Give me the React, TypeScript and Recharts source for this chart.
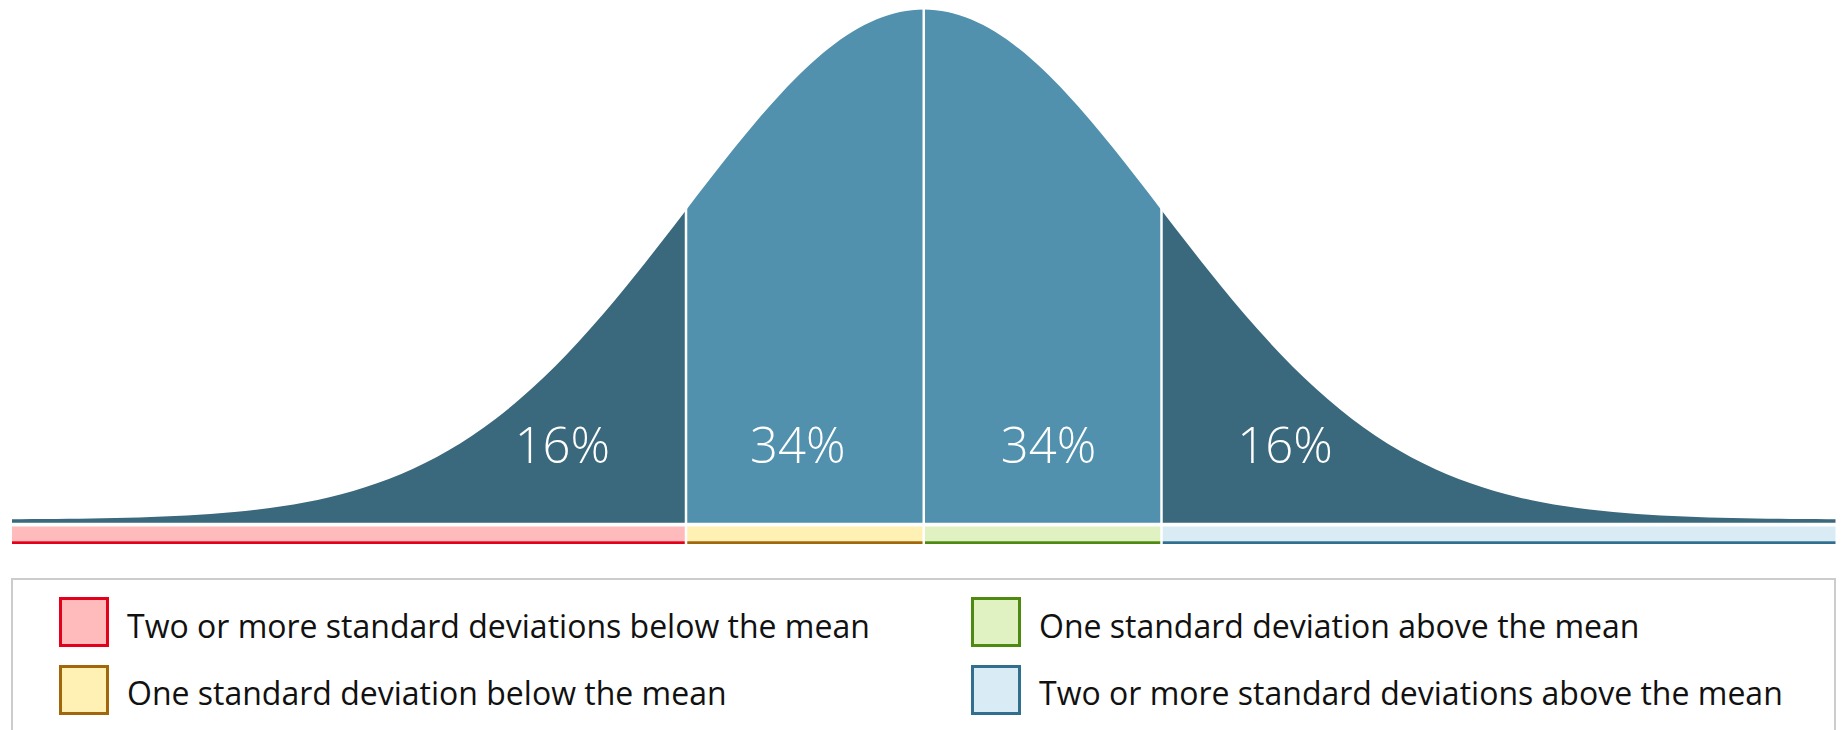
import React from 'react';
import {
  ComposedChart,
  Area,
  XAxis,
  YAxis,
  ReferenceArea,
  ReferenceLine,
  ReferenceDot,
} from 'recharts';

// x positions in standard deviations from the mean
const xValues = [
  -3.835, -3.8, -3.7, -3.6, -3.5, -3.4, -3.3, -3.2, -3.1, -3.0,
  -2.9, -2.8, -2.7, -2.6, -2.5, -2.4, -2.3, -2.2, -2.1, -2.0,
  -1.9, -1.8, -1.7, -1.6, -1.5, -1.4, -1.3, -1.2, -1.1, -1,
  -0.9, -0.8, -0.7, -0.6, -0.5, -0.4, -0.3, -0.2, -0.1, 0,
  0.1, 0.2, 0.3, 0.4, 0.5, 0.6, 0.7, 0.8, 0.9, 1,
  1.1, 1.2, 1.3, 1.4, 1.5, 1.6, 1.7, 1.8, 1.9, 2.0,
  2.1, 2.2, 2.3, 2.4, 2.5, 2.6, 2.7, 2.8, 2.9, 3.0,
  3.1, 3.2, 3.3, 3.4, 3.5, 3.6, 3.7, 3.8, 3.835,
];

// curve height (bell curve)
const density = [
  0.00026, 0.00029, 0.00042, 0.00061, 0.00087, 0.00123, 0.00172, 0.00238, 0.00327, 0.00443,
  0.00595, 0.00792, 0.01042, 0.01358, 0.01753, 0.02239, 0.02833, 0.03547, 0.04398, 0.05399,
  0.06562, 0.07895, 0.09405, 0.11092, 0.12952, 0.14973, 0.17137, 0.19419, 0.21785, 0.24197,
  0.26609, 0.28969, 0.31225, 0.33322, 0.35207, 0.36827, 0.38139, 0.39104, 0.39695, 0.39894,
  0.39695, 0.39104, 0.38139, 0.36827, 0.35207, 0.33322, 0.31225, 0.28969, 0.26609, 0.24197,
  0.21785, 0.19419, 0.17137, 0.14973, 0.12952, 0.11092, 0.09405, 0.07895, 0.06562, 0.05399,
  0.04398, 0.03547, 0.02833, 0.02239, 0.01753, 0.01358, 0.01042, 0.00792, 0.00595, 0.00443,
  0.00327, 0.00238, 0.00172, 0.00123, 0.00087, 0.00061, 0.00042, 0.00029, 0.00026,
];

// the four regions of the distribution
const segmentKeys = ['farBelow', 'below', 'above', 'farAbove'];
const segmentFrom = [-3.835, -1, 0, 1];
const segmentTo = [-1, 0, 1, 3.835];
const segmentShares = ['16%', '34%', '34%', '16%'];
const shareLabelAt = [-1.52, -0.53, 0.525, 1.52];
const boundaries = [-1, 0, 1];

const legendLabels = [
  'Two or more standard deviations below the mean',
  'One standard deviation below the mean',
  'One standard deviation above the mean',
  'Two or more standard deviations above the mean',
];

// styles
const AREA_COLORS = ['#3a687c', '#5191ae', '#5191ae', '#3a687c'];
const BAND_FILLS = ['#ffbbbb', '#fff0b4', '#e1f2c2', '#d9ecf5'];
const BAND_LINES = ['#e2001a', '#a3670b', '#4f8a10', '#326f8f'];
const FONT = '"Open Sans", "Noto Sans", sans-serif';

const Y_MIN = -0.01908;
const Y_MAX = 0.39925;
const AREA_BASE = -0.0024;
const BAND_TOP = -0.0054;
const BAND_MID = -0.01697;
const LABEL_LEVEL = 0.0575;

const chartData = xValues.map((x, i) => {
  const row: Record<string, number | null> = { x };
  segmentKeys.forEach((k, s) => {
    row[k] = x >= segmentFrom[s] && x <= segmentTo[s] ? density[i] : null;
  });
  return row;
});

const legendPos = [
  { sq: [46, 17], tx: [114, 29.6] },
  { sq: [46, 85], tx: [114, 96.6] },
  { sq: [958, 17], tx: [1026, 29.6] },
  { sq: [958, 85], tx: [1026, 96.6] },
];

export default function App() {
  return (
    <div
      style={{
        position: 'absolute',
        left: 0,
        top: 0,
        width: 1845,
        height: 730,
        overflow: 'hidden',
        background: '#ffffff',
        fontFamily: FONT,
      }}
    >
      <ComposedChart
        width={1845}
        height={560}
        data={chartData}
        margin={{ top: 9, right: 9.5, bottom: 16, left: 12 }}
      >
        <XAxis type="number" dataKey="x" domain={[-3.835, 3.835]} hide />
        <YAxis type="number" domain={[Y_MIN, Y_MAX]} hide />
        {segmentKeys.map((k, s) => (
          <Area
            key={k}
            dataKey={k}
            type="monotone"
            stroke="none"
            fill={AREA_COLORS[s]}
            fillOpacity={1}
            baseValue={AREA_BASE}
            connectNulls={false}
            dot={false}
            activeDot={false}
            isAnimationActive={false}
          />
        ))}
        {segmentKeys.map((k, s) => (
          <ReferenceArea
            key={'bf' + k}
            x1={segmentFrom[s]}
            x2={segmentTo[s]}
            y1={BAND_MID}
            y2={BAND_TOP}
            fill={BAND_FILLS[s]}
            fillOpacity={1}
            stroke="none"
            ifOverflow="visible"
          />
        ))}
        {segmentKeys.map((k, s) => (
          <ReferenceArea
            key={'bl' + k}
            x1={segmentFrom[s]}
            x2={segmentTo[s]}
            y1={Y_MIN}
            y2={BAND_MID}
            fill={BAND_LINES[s]}
            fillOpacity={1}
            stroke="none"
            ifOverflow="visible"
          />
        ))}
        {boundaries.map((b) => (
          <ReferenceLine key={'r' + b} x={b} stroke="#ffffff" strokeWidth={2.5} ifOverflow="visible" />
        ))}
        {segmentShares.map((t, s) => (
          <ReferenceDot
            key={'lab' + s}
            x={shareLabelAt[s]}
            y={LABEL_LEVEL}
            r={0}
            fill="none"
            stroke="none"
            ifOverflow="visible"
            label={{
              value: t,
              position: 'center',
              fill: '#ffffff',
              fontSize: 49,
              fontWeight: 300,
              fontFamily: FONT,
            }}
          />
        ))}
      </ComposedChart>
      <div
        style={{
          position: 'absolute',
          left: 11,
          top: 578,
          width: 1825,
          height: 220,
          border: '2px solid #cccccc',
          boxSizing: 'border-box',
        }}
      >
        {legendLabels.map((label, i) => (
          <React.Fragment key={label}>
            <div
              style={{
                position: 'absolute',
                left: legendPos[i].sq[0],
                top: legendPos[i].sq[1],
                width: 50,
                height: 50,
                boxSizing: 'border-box',
                background: BAND_FILLS[i],
                border: '3px solid ' + BAND_LINES[i],
              }}
            />
            <div
              style={{
                position: 'absolute',
                left: legendPos[i].tx[0],
                top: legendPos[i].tx[1],
                fontSize: 32,
                lineHeight: '32px',
                color: '#111111',
                whiteSpace: 'nowrap',
                fontFamily: FONT,
              }}
            >
              {label}
            </div>
          </React.Fragment>
        ))}
      </div>
    </div>
  );
}
